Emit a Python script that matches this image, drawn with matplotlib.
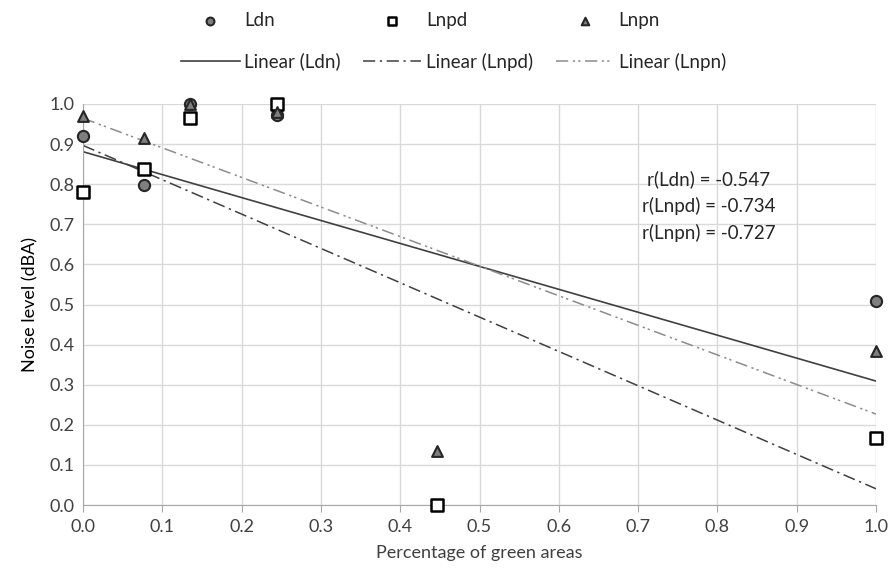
import numpy as np
from matplotlib import pyplot as plt

plt.rcParams['font.family'] = ['Lato', 'DejaVu Sans']

x = [0.0, 0.077, 0.135, 0.245, 0.446, 1.0]
ldn = [0.920, 0.797, 1.000, 0.973, 0.000, 0.508]
lnpd = [0.780, 0.838, 0.965, 1.000, 0.000, 0.168]
lnpn = [0.970, 0.915, 1.000, 0.980, 0.135, 0.383]
r_text = ["r(Ldn) = -0.547", "r(Lnpd) = -0.734", "r(Lnpn) = -0.727"]

fig = plt.figure(figsize=(8.93, 5.77), dpi=100)
ax = fig.add_axes([83 / 893, 72 / 577, 793 / 893, 401 / 577])

xs = np.array([0.0, 1.0])
fits = [np.polyfit(x, s, 1) for s in (ldn, lnpd, lnpn)]

l1, = ax.plot(xs, np.polyval(fits[0], xs), color='#404040', lw=1.2, ls='-')
l2, = ax.plot(xs, np.polyval(fits[1], xs), color='#404040', lw=1.1, ls=(0, (8, 3, 1.5, 3)))
l3, = ax.plot(xs, np.polyval(fits[2], xs), color='#8c8c8c', lw=1.1, ls=(0, (8, 3, 1.5, 2, 1.5, 3)))

m1 = ax.scatter(x, ldn, marker='o', s=65, facecolor='#7f7f7f', edgecolor='#262626', lw=1.5, zorder=3, clip_on=False)
m2 = ax.scatter(x, lnpd, marker='s', s=70, facecolor='white', edgecolor='black', lw=1.8, zorder=4, clip_on=False)
m3 = ax.scatter(x, lnpn, marker='^', s=60, facecolor='#7f7f7f', edgecolor='#262626', lw=1.5, zorder=5, clip_on=False)

ticks = np.arange(0, 1.01, 0.1)
ax.set_xlim(0, 1.0)
ax.set_ylim(0, 1.0)
ax.set_xticks(ticks)
ax.set_yticks(ticks)
ax.set_xticklabels([f"{v:.1f}" for v in ticks])
ax.set_yticklabels([f"{v:.1f}" for v in ticks])
ax.grid(True, color='#d9d9d9', lw=1)
ax.set_axisbelow(True)
for s in ['top', 'right']:
    ax.spines[s].set_visible(False)
for s in ['left', 'bottom']:
    ax.spines[s].set_color('#a6a6a6')
ax.tick_params(axis='x', length=5, color='#a6a6a6', labelsize=13, labelcolor='#404040', pad=5)
ax.tick_params(axis='y', length=0, labelsize=13, labelcolor='#404040', pad=6)
ax.set_xlabel("Percentage of green areas", fontsize=13, color='#404040', labelpad=7)
ax.set_ylabel("Noise level (dBA)", fontsize=13, color='#000000', labelpad=8)

ax.text(0.789, 0.745, "\n".join(r_text), ha='center', va='center', fontsize=13.5,
        color='#262626', linespacing=1.6)

fig.legend([m1, l1, m2, l2, m3, l3],
           ["Ldn", "Linear (Ldn)", "Lnpd", "Linear (Lnpd)", "Lnpn", "Linear (Lnpn)"],
           ncol=3, loc='upper center', bbox_to_anchor=(0.508, 1.008), frameon=False,
           fontsize=13.5, handlelength=3.1, handletextpad=0.25, columnspacing=1.2,
           labelspacing=1.25, scatterpoints=1, markerscale=0.7, labelcolor='#262626')

fig.savefig("out.png", dpi=100)
